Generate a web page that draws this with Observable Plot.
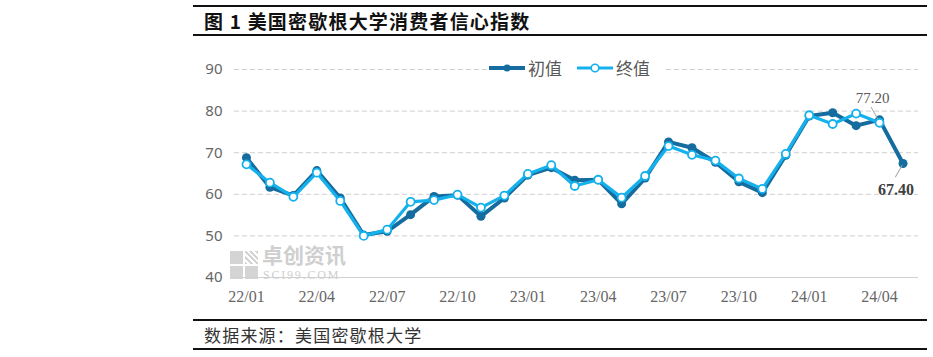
<!DOCTYPE html>
<html><head><meta charset="utf-8">
<script src="https://cdn.jsdelivr.net/npm/d3@7"></script>
<script src="https://cdn.jsdelivr.net/npm/@observablehq/plot@0.6"></script>
<style>
body{margin:0;background:#fff;width:933px;height:357px;position:relative;overflow:hidden;font-family:"Noto Sans CJK SC",sans-serif}
.hr{position:absolute;left:193px;width:734px;height:2px;background:#111}
#title{position:absolute;left:204px;top:7px;font-size:19px;font-weight:bold;color:#111;line-height:27px;white-space:nowrap;letter-spacing:1.2px}
#source{position:absolute;left:204px;top:321px;font-size:17px;color:#333;line-height:27px;white-space:nowrap;letter-spacing:1.2px}
#chart{position:absolute;left:193px;top:36px;z-index:2}
#wm{position:absolute;left:230px;top:249px;z-index:1;color:#cfcfcf}
#legend{position:absolute;left:488px;top:57px;z-index:3;display:flex;align-items:center;font-size:17px;color:#595959;background:#fff;line-height:22px}
#legend span{margin-right:14px;margin-left:2px}
</style></head><body>
<div class="hr" style="top:5px"></div>
<div id="title">图 1 美国密歇根大学消费者信心指数</div>
<div class="hr" style="top:34px"></div>
<div id="wm">
  <div style="position:absolute;left:0;top:2px;width:13px;height:13px;background:#d4d4d4"></div>
  <div style="position:absolute;left:15px;top:2px;width:13px;height:13px;background:repeating-linear-gradient(45deg,#d4d4d4 0 2px,#fff 2px 4px)"></div>
  <div style="position:absolute;left:0;top:17px;width:13px;height:13px;background:#d4d4d4"></div>
  <div style="position:absolute;left:15px;top:17px;width:13px;height:13px;background:#d4d4d4"></div>
  <div style="position:absolute;left:32px;top:-5px;font-size:21px;font-weight:bold;white-space:nowrap;line-height:21px">卓创资讯</div>
  <div style="position:absolute;left:33px;top:21px;font-size:12px;font-family:'Liberation Serif',serif;letter-spacing:1.8px;white-space:nowrap;line-height:11px">SCI99.COM</div>
</div>
<div id="chart"></div>
<div id="legend"></div>
<div class="hr" style="top:319px"></div>
<div id="source">数据来源：美国密歇根大学</div>
<div class="hr" style="top:348px"></div>
<script>
const months = ["22/01","22/02","22/03","22/04","22/05","22/06","22/07","22/08","22/09","22/10","22/11","22/12",
  "23/01","23/02","23/03","23/04","23/05","23/06","23/07","23/08","23/09","23/10","23/11","23/12",
  "24/01","24/02","24/03","24/04","24/05"];
const prelim = [68.8,61.7,59.7,65.7,59.1,50.2,51.1,55.1,59.5,59.8,54.7,59.1,
  64.6,66.4,63.4,63.5,57.7,63.9,72.6,71.2,67.7,63.0,60.4,69.4,
  78.8,79.6,76.5,77.9,67.4];
const final = [67.2,62.8,59.4,65.2,58.4,50.0,51.5,58.2,58.6,59.9,56.8,59.7,
  64.9,67.0,62.0,63.5,59.2,64.4,71.6,69.5,68.1,63.8,61.3,69.7,
  79.0,76.9,79.4,77.2,null];
const xTickLabels = ["22/01","22/04","22/07","22/10","23/01","23/04","23/07","23/10","24/01","24/04"];
const yTicks = [40,50,60,70,80,90];
const seriesNames = ["初值","终值"];
const labelFinal = {month:"24/04", value:77.2, text:"77.20"};
const labelPrelim = {month:"24/05", value:67.4, text:"67.40"};

const dark = "#156c9f", light = "#14b1ec";
const pre = months.map((m,i)=>({i, m, v: prelim[i]})).filter(d=>d.v!=null);
const fin = months.map((m,i)=>({i, m, v: final[i]})).filter(d=>d.v!=null);
const tickIdx = xTickLabels.map(l=>months.indexOf(l));
const aF = [{i: months.indexOf(labelFinal.month), v: labelFinal.value, t: labelFinal.text}];
const aP = [{i: months.indexOf(labelPrelim.month), v: labelPrelim.value, t: labelPrelim.text}];
const leader = {draw(ctx, l){ ctx.moveTo(0,0); ctx.lineTo(0,-l); }};

const chart = Plot.plot({
  width: 732, height: 284,
  marginLeft: 41, marginRight: 7, marginTop: 33, marginBottom: 43,
  style: {background: "transparent", overflow: "visible"},
  x: {type: "linear", domain: [-0.51, 28.66]},
  y: {domain: [40, 90]},
  marks: [
    Plot.gridY(yTicks.filter(t=>t>40), {stroke: "#cfcfcf", strokeOpacity: 1, strokeDasharray: "5,3"}),
    Plot.ruleY([40], {stroke: "#d0d0d0"}),
    Plot.axisX({ticks: tickIdx, tickFormat: i => months[i], tickSize: 0, tickPadding: 13,
      fontFamily: "'Liberation Serif', serif", fontSize: 16, fill: "#666", label: null}),
    Plot.axisY({ticks: yTicks, tickSize: 0, tickPadding: 12,
      fontFamily: "'Noto Sans', sans-serif", fontSize: 15, fill: "#666", label: null}),
    Plot.line(pre, {x: "i", y: "v", stroke: dark, strokeWidth: 4}),
    Plot.dot(pre, {x: "i", y: "v", r: 4.5, fill: dark}),
    Plot.line(fin, {x: "i", y: "v", stroke: light, strokeWidth: 3.2}),
    Plot.dot(fin, {x: "i", y: "v", r: 4, fill: "#fff", stroke: light, strokeWidth: 1.8}),
    Plot.vector(aF, {x: "i", y: "v", length: 13, rotate: -29, anchor: "start", dx: -2, dy: -4, shape: leader, stroke: "#a6a6a6", strokeWidth: 1}),
    Plot.text(aF, {x: "i", y: "v", text: "t", dx: -7, dy: -25, fontFamily: "'Liberation Serif', serif", fontSize: 15, fill: "#595959"}),
    Plot.vector(aP, {x: "i", y: "v", length: 13, rotate: 210, anchor: "start", dx: -1, dy: 2, shape: leader, stroke: "#a6a6a6", strokeWidth: 1}),
    Plot.text(aP, {x: "i", y: "v", text: "t", dx: -7, dy: 26, fontFamily: "'Liberation Serif', serif", fontSize: 16, fontWeight: "bold", fill: "#404040"})
  ]
});
document.getElementById("chart").appendChild(chart);

const lg = document.getElementById("legend");
[[dark, true], [light, false]].forEach(([c, filled], k) => {
  const s = `<svg width="38" height="12"><line x1="1" y1="6" x2="37" y2="6" stroke="${c}" stroke-width="${filled?4:3.2}"/>` +
    (filled ? `<circle cx="19" cy="6" r="3.5" fill="${c}"/>` : `<circle cx="19" cy="6" r="3.8" fill="#fff" stroke="${c}" stroke-width="1.6"/>`) + `</svg>`;
  lg.insertAdjacentHTML("beforeend", s + `<span>${seriesNames[k]}</span>`);
});
</script>
</body></html>
